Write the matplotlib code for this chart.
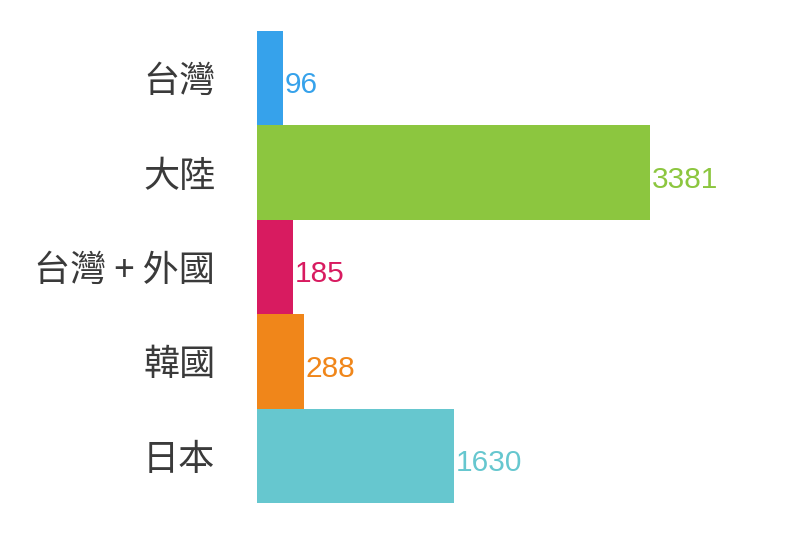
import matplotlib
matplotlib.use("Agg")
import matplotlib.pyplot as plt

categories = ["台灣", "大陸", "台灣 + 外國", "韓國", "日本"]
values = [96, 3381, 185, 288, 1630]
colors = ["#36a2eb", "#8cc63f", "#d81b60", "#f0861a", "#66c7cf"]

XMIN = -137
XMAX = 4366

plt.rcParams['font.family'] = ['Noto Sans CJK TC', 'DejaVu Sans']

fig = plt.figure(figsize=(8.02, 5.56), dpi=100)
ax = fig.add_axes([257 / 802, 53 / 556, 503 / 802, 472 / 556])

ypos = list(range(len(categories)))
ax.barh(ypos, [v - XMIN for v in values], left=XMIN, height=1.0, color=colors)

ax.set_xlim(XMIN, XMAX)
ax.set_ylim(len(categories) - 0.5, -0.5)

for y, v, c in zip(ypos, values, colors):
    ax.annotate(str(v), xy=(v, y), xytext=(1.0, -5.2), textcoords="offset points",
                ha="left", va="center", color=c, fontsize=21.5,
                family=["Liberation Sans", "DejaVu Sans"])

ax.set_yticks(ypos)
ax.set_yticklabels(categories, fontsize=26, color="#3a3a3a", fontweight="light")
ax.tick_params(axis="y", length=0, pad=30)
ax.set_xticks([])
for s in ax.spines.values():
    s.set_visible(False)

fig.savefig("out.png", dpi=100)
